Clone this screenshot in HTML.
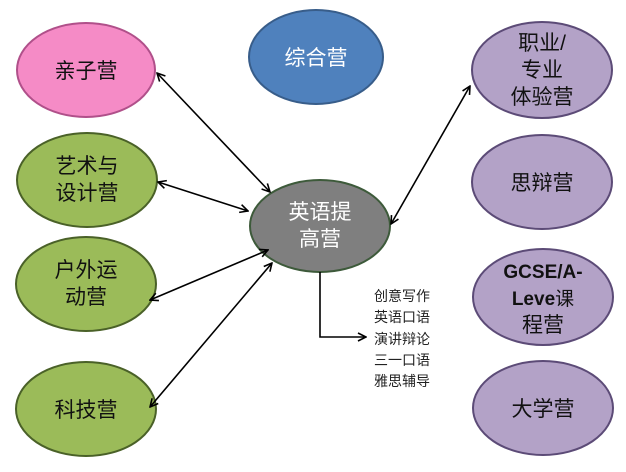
<!DOCTYPE html>
<html><head><meta charset="utf-8"><style>
body{margin:0;background:#fff}
text{font-family:"Liberation Sans","Noto Sans CJK SC",sans-serif}
</style></head><body>
<svg width="626" height="467" viewBox="0 0 626 467">
<defs><marker id="a" markerWidth="10" markerHeight="10" refX="9" refY="5" orient="auto-start-reverse" markerUnits="userSpaceOnUse"><path d="M1,1 L9,5 L1,9" fill="none" stroke="#000" stroke-width="1.6"/></marker></defs>
<g stroke-width="2">
<ellipse cx="86" cy="70" rx="69" ry="47" fill="#f58bc6" stroke="#b0508a"/>
<ellipse cx="87" cy="180" rx="70" ry="47" fill="#9bbb59" stroke="#4a6128"/>
<ellipse cx="86" cy="284" rx="70" ry="47" fill="#9bbb59" stroke="#4a6128"/>
<ellipse cx="86" cy="409" rx="70" ry="47" fill="#9bbb59" stroke="#4a6128"/>
<ellipse cx="316" cy="57" rx="67" ry="47" fill="#4f81bd" stroke="#385d8a"/>
<ellipse cx="320" cy="226" rx="70" ry="46" fill="#7f7f7f" stroke="#3d5a3a"/>
<ellipse cx="542" cy="70" rx="70" ry="48" fill="#b3a2c7" stroke="#5c4b77"/>
<ellipse cx="542" cy="182" rx="70" ry="47" fill="#b3a2c7" stroke="#5c4b77"/>
<ellipse cx="543" cy="297" rx="70" ry="48" fill="#b3a2c7" stroke="#5c4b77"/>
<ellipse cx="543" cy="408" rx="70" ry="47" fill="#b3a2c7" stroke="#5c4b77"/>
</g>
<g stroke="#000" stroke-width="1.6" fill="none" marker-start="url(#a)" marker-end="url(#a)">
<line x1="157" y1="73" x2="270" y2="192"/>
<line x1="158" y1="182" x2="248" y2="211"/>
<line x1="150" y1="300" x2="268" y2="250"/>
<line x1="150" y1="407" x2="272" y2="263"/>
<line x1="470" y1="86" x2="391" y2="224"/>
</g>
<path d="M320,272 V337 H366" stroke="#000" stroke-width="1.6" fill="none" marker-end="url(#a)"/>
<g font-size="21" text-anchor="middle" fill="#111">
<text x="86" y="78">亲子营</text>
<text x="87" y="173">艺术与</text><text x="87" y="200">设计营</text>
<text x="86" y="277">户外运</text><text x="86" y="304">动营</text>
<text x="86" y="417">科技营</text>
<text x="316" y="65" fill="#fff">综合营</text>
<text x="320" y="219" fill="#fff">英语提</text><text x="320" y="246" fill="#fff">高营</text>
<text x="542" y="50">职业/</text><text x="542" y="77">专业</text><text x="542" y="104">体验营</text>
<text x="542" y="190">思辩营</text>
<text x="543" y="278" font-weight="bold" font-size="19">GCSE/A-</text>
<text x="543" y="305" font-size="19"><tspan font-weight="bold">Leve</tspan>课</text>
<text x="543" y="332">程营</text>
<text x="543" y="416">大学营</text>
</g>
<g font-size="14" fill="#222">
<text x="374" y="301">创意写作</text><text x="374" y="322">英语口语</text><text x="374" y="344">演讲辩论</text><text x="374" y="365">三一口语</text><text x="374" y="386">雅思辅导</text>
</g>
</svg>
</body></html>
